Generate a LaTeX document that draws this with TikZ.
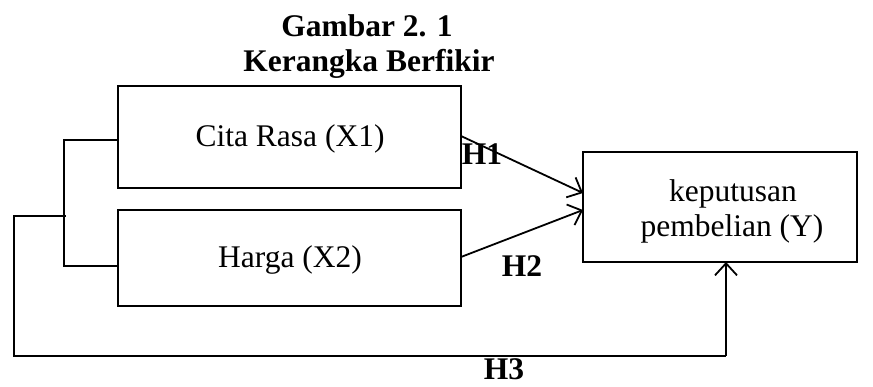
\documentclass[tikz,border=0pt]{standalone}
\usepackage{fontspec}
\setmainfont{Liberation Serif}
\usetikzlibrary{arrows.meta}
\begin{document}
\begin{tikzpicture}[x=1pt,y=-1pt,
  box/.style={draw,line width=1.3pt},
  wire/.style={draw,line width=1.8pt},
  arr/.style={wire,-{Straight Barb[length=12pt,width=22pt,line width=1.8pt]}},
  lbl/.style={font=\fontsize{31.5}{35}\selectfont,anchor=base,inner sep=0pt},
  hlbl/.style={font=\fontsize{31.5}{35}\selectfont\bfseries,anchor=base,inner sep=0pt}]
\useasboundingbox (0,0) rectangle (873,387);
% title
\node[hlbl] (title1) at (367,37) {Gambar 2. 1};
\node[hlbl] (title2) at (369,72) {Kerangka Berfikir};
% variable boxes
\draw[box] (118,86) rectangle (461,188);
\node[lbl] (x1) at (290,147) {Cita Rasa (X1)};
\coordinate (x1l) at (118,140);
\coordinate (x1r) at (461,136);
\draw[box] (118,210) rectangle (461,306);
\node[lbl] (x2) at (290,268) {Harga (X2)};
\coordinate (x2l) at (118,266);
\coordinate (x2r) at (461,257);
\draw[box] (583,152) rectangle (857,262);
\node[lbl] (y1) at (733,202) {keputusan};
\node[lbl] (y2) at (732,237) {pembelian (Y)};
\coordinate (yh1) at (583,193);
\coordinate (yh2) at (583,210);
\coordinate (yb) at (726,262);
% bracket joining X1 and X2
\coordinate (bt) at (64,140);
\coordinate (bb) at (64,266);
\coordinate (bm) at (66,216);
\draw[wire] (x1l) -- (bt) -- (bb) -- (x2l);
% joint path to Y
\coordinate (ot) at (14,216);
\coordinate (ob) at (14,356);
\coordinate (oc) at (726,356);
\draw[wire] (bm) -- (ot) -- (ob) -- (oc);
\draw[arr] (oc) -- (yb);
% hypothesis labels and arrows
\node[hlbl] (h1) at (482,165) {H1};
\node[hlbl] (h2) at (522,277) {H2};
\node[hlbl] (h3) at (504,379) {H3};
\draw[arr] (x1r) -- (yh1);
\draw[arr] (x2r) -- (yh2);
\end{tikzpicture}
\end{document}
